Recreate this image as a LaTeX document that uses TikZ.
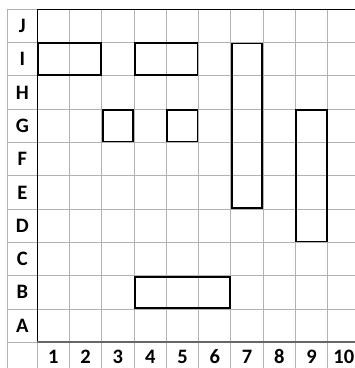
\documentclass[tikz,border=0pt]{standalone}
\usepackage{fontspec}
\setmainfont{Carlito}
\usepackage{tikz}
\usetikzlibrary{positioning}

\begin{document}
\begin{tikzpicture}[
    x=32.26pt, y=-33.3pt,
    gridline/.style={draw=gray!60, line width=0.9pt},
    axisline/.style={draw=black, line width=1.3pt},
    bottomaxis/.style={draw=gray!80!black, line width=1.6pt},
    lbl/.style={font=\fontsize{20.5}{20.5}\selectfont\bfseries, inner sep=0pt},
    cellbox/.style={draw=black, line width=1.7pt}
]

\useasboundingbox (-1.156,-0.279) rectangle (9.848,10.772);

% Grid
\foreach \c in {1,...,10}
    \draw[gridline] (\c,0) -- (\c,11);
\foreach \r in {1,...,9}
    \draw[gridline] (-0.93,\r) -- (10.2,\r);
\draw[gridline] (-0.93,0) -- (0,0);
\draw[gridline] (-0.93,0) -- (-0.93,11);
\draw[gridline] (-0.93,10) -- (0,10);
\draw[gridline] (0,10) -- (0,11);

% Axes
\draw[axisline] (0,0) -- (10.2,0);
\draw[axisline] (0,0) -- (0,10);
\draw[bottomaxis] (0,10) -- (10.2,10);

% Row and column labels
\foreach \l [count=\i from 0] in {J,I,H,G,F,E,D,C,B,A}
    \node[lbl] (row\l) at (-0.465,\i+0.5) {\l};
\foreach \c in {1,...,10}
    \node[lbl] (col\c) at (\c-0.5,10.44) {\c};

% Boxes
\draw[cellbox] (0.03,1.02) rectangle (1.97,1.98);  % I, 1-2
\draw[cellbox] (3.03,1.02) rectangle (4.97,1.98);  % I, 4-5
\draw[cellbox] (2.03,3.03) rectangle (2.97,3.97);  % G, 3
\draw[cellbox] (4.03,3.03) rectangle (4.97,3.97);  % G, 5
\draw[cellbox] (6.03,1.03) rectangle (6.97,5.97);  % 7, I-E
\draw[cellbox] (8.03,3.03) rectangle (8.97,6.97);  % 9, G-D
\draw[cellbox] (3.03,8.03) rectangle (5.97,8.97);  % B, 4-6

\end{tikzpicture}
\end{document}
